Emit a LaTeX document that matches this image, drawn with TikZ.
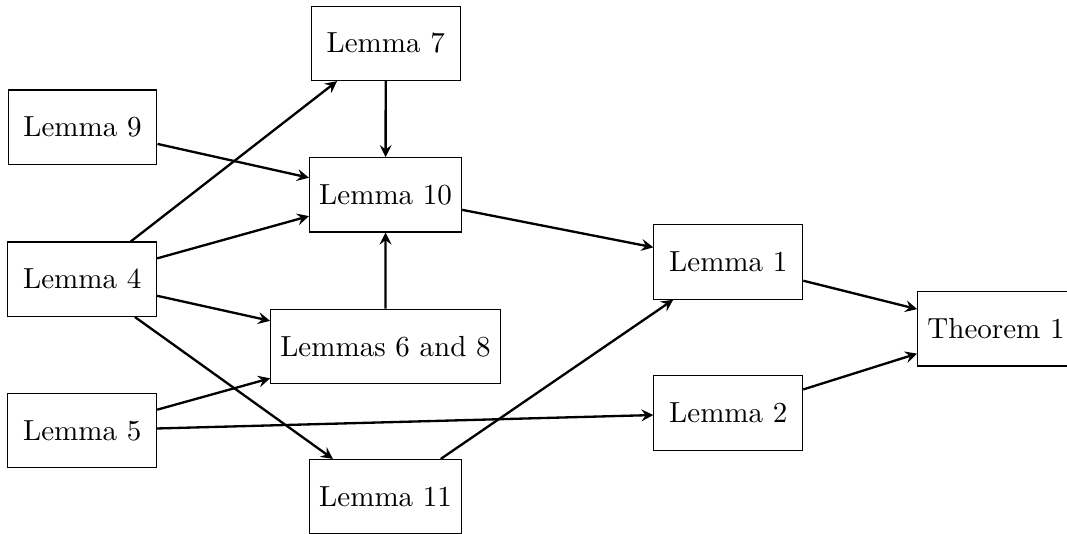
\documentclass[tikz,border=0pt]{standalone}
\begin{document}
\begin{tikzpicture}[x=0.3442pt,y=-0.3442pt,>=stealth,
  lem/.style={draw,rectangle,minimum height=0.9cm,minimum width=1.8cm,inner sep=3.33pt},
  arr/.style={->,thick}]
\useasboundingbox (0,0) rectangle (1067,533);
\node[lem] (l7) at (385.7,43.3) {Lemma 7};
\node[lem] (l9) at (82.5,127.2) {Lemma 9};
\node[lem] (l10) at (385.6,194.8) {Lemma 10};
\node[lem] (l4) at (82.2,279.2) {Lemma 4};
\node[lem] (l68) at (385.5,346.3) {Lemmas 6 and 8};
\node[lem] (l5) at (82.2,430.5) {Lemma 5};
\node[lem] (l11) at (385.6,496.7) {Lemma 11};
\node[lem] (l1) at (728.3,262) {Lemma 1};
\node[lem] (l2) at (728.3,413) {Lemma 2};
\node[lem] (t1) at (996,328.8) {Theorem 1};
\draw[arr] (l4) -- (l7);
\draw[arr] (l9) -- (l10);
\draw[arr] (l4) -- (l10);
\draw[arr] (l7) -- (l10);
\draw[arr] (l68) -- (l10);
\draw[arr] (l4) -- (l68);
\draw[arr] (l5) -- (l68);
\draw[arr] (l4) -- (l11);
\draw[arr] (l5) -- (l2);
\draw[arr] (l10) -- (l1);
\draw[arr] (l11) -- (l1);
\draw[arr] (l1) -- (t1);
\draw[arr] (l2) -- (t1);
\end{tikzpicture}
\end{document}
